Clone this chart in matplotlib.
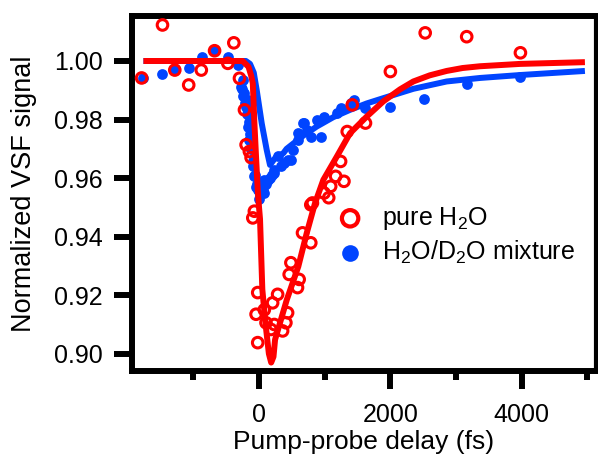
import matplotlib
matplotlib.use("Agg")
import matplotlib.pyplot as plt

plt.rcParams["font.family"] = ["Liberation Sans", "DejaVu Sans"]
plt.rcParams["mathtext.fontset"] = "custom"
plt.rcParams["mathtext.rm"] = "Liberation Sans"
plt.rcParams["mathtext.default"] = "regular"

# pure H2O, measured points (delay in fs, normalized signal)
h2o_t = [-1788, -1470, -1283, -1071, -879, -677, -475, -384, -298, -222,
         -197, -147, -121, -95, -71, -45, -20, -20, 80, 106, 182, 207, 232,
         283, 359, 409, 435, 459, 485, 586, 611, 662, 788, 788, 813, 990,
         1061, 1091, 1167, 1242, 1293, 1343, 1419, 1621, 2000, 2530, 3162, 3980]
h2o_y = [0.9942, 1.0123, 0.9969, 0.9918, 0.9969, 1.0035, 0.9992, 1.0062, 0.9941, 0.9833,
         0.9714, 0.9691, 0.9670, 0.9464, 0.9487, 0.9135, 0.9209, 0.9038, 0.9150, 0.9106, 0.9083, 0.9174, 0.9100,
         0.9203, 0.9078, 0.9106, 0.9140, 0.9271, 0.9311, 0.9226, 0.9254, 0.9413, 0.9379, 0.9509, 0.9515, 0.9549,
         0.9533, 0.9572, 0.9606, 0.9657, 0.9589, 0.9759, 0.9850, 0.9788, 0.9964, 1.0096, 1.0083, 1.0028]

# H2O/D2O mixture, measured points
mix_t = [-1763, -1475, -1283, -1071, -869, -677, -475, -323, -273, -260, -250, -240,
         -222, -210, -197, -185, -171, -171, -160, -147, -135, -120, -110, -95, -85,
         -71, -60, -45, -30, -20, 0, 10, 30, 30, 55, 80, 80, 105, 132, 160, 190,
         232, 232, 283, 333, 384, 435, 485, 510, 586, 586, 662, 687, 737, 788,
         889, 939, 990, 990, 1192, 1242, 1394, 1444, 1621, 2000, 2505, 3162, 3980]
mix_y = [0.9941, 0.9956, 0.9972, 0.9975, 1.0015, 1.0037, 1.0015, 0.9986, 0.9912, 0.9905, 0.9935, 0.9880,
         0.9890, 0.9855, 0.9844, 0.9820, 0.9867, 0.9776, 0.9790, 0.9731, 0.9750, 0.9700, 0.9700, 0.9640, 0.9660,
         0.9606, 0.9610, 0.9570, 0.9580, 0.9560, 0.9530, 0.9545, 0.9572, 0.9550, 0.9560, 0.9550, 0.9595, 0.9580, 0.9594, 0.9600, 0.9610,
         0.9617, 0.9629, 0.9674, 0.9640, 0.9651, 0.9663, 0.9663, 0.9697, 0.9731, 0.9754, 0.9788, 0.9788, 0.9765, 0.9742,
         0.9799, 0.9742, 0.9805, 0.9810, 0.9822, 0.9839, 0.9856, 0.9867, 0.9839, 0.9842, 0.9871, 0.9920, 0.9947]

# fitted curves
h2o_fit_t = [-1760, -400, -250, -160, -120, -95, -71, -45, -20, 0, 15, 50, 100, 150,
             185, 220, 244, 422, 598, 726, 852, 979, 1183, 1385, 1639, 1892, 2146,
             2349, 2600, 2857, 3100, 3364, 3973, 4962]
h2o_fit_y = [1.0000, 1.0000, 1.0000, 0.9980, 0.9950, 0.9924, 0.9790, 0.9670, 0.9560, 0.9500, 0.9460, 0.9220, 0.9100, 0.9000,
             0.8970, 0.8990, 0.9048, 0.9184, 0.9298, 0.9412, 0.9514, 0.9594, 0.9673, 0.9753, 0.9810, 0.9862, 0.9903,
             0.9930, 0.9951, 0.9966, 0.9976, 0.9982, 0.9990, 0.9996]

mix_fit_t = [-1760, -300, -200, -137, -80, -35, 41, 117, 167, 250, 370, 420,
             674, 878, 1130, 1385, 1640, 1892, 2350, 2857, 3364, 3973, 4962]
mix_fit_y = [1.0000, 1.0000, 1.0000, 0.9990, 0.9960, 0.9900, 0.9787, 0.9696, 0.9645, 0.9670, 0.9685, 0.9700,
             0.9745, 0.9776, 0.9808, 0.9833, 0.9855, 0.9873, 0.9905, 0.9930, 0.9942, 0.9952, 0.9966]

red = "#ff0000"
blue = "#0044ff"
fs = 18

fig = plt.figure(figsize=(5.98, 4.59), dpi=100)
ax = fig.add_axes([0.22, 0.191, 0.777, 0.775])

ax.plot(mix_fit_t, mix_fit_y, color=blue, lw=4.3, solid_capstyle="butt", zorder=2)
ax.scatter(mix_t, mix_y, s=60, color=blue, linewidths=0, zorder=3,
           label="H$_2$O/D$_2$O mixture")
ax.scatter(h2o_t, h2o_y, s=58, facecolors="none", edgecolors=red, linewidths=2.2,
           zorder=4, label="pure H$_2$O")
ax.plot(h2o_fit_t, h2o_fit_y, color=red, lw=4.3, solid_capstyle="butt", zorder=5)

ax.set_xlim(-1941, 5134)
ax.set_ylim(0.8940, 1.0155)

ax.set_xticks([0, 2000, 4000])
ax.set_xticks([-1000, 1000, 3000, 5000], minor=True)
ax.set_yticks([0.90, 0.92, 0.94, 0.96, 0.98, 1.00])
ax.set_yticklabels(["%.2f" % v for v in ax.get_yticks()])

ax.tick_params(axis="both", which="major", direction="out", length=13, width=4.3,
               labelsize=fs)
ax.tick_params(axis="x", which="minor", direction="out", length=6.5, width=4.3)
ax.tick_params(axis="y", pad=8)
ax.tick_params(axis="x", pad=10)

for side in ["left", "bottom", "top"]:
    ax.spines[side].set_linewidth(4.3)
ax.spines["right"].set_linewidth(3)

ax.set_xlabel("Pump-probe delay (fs)", fontsize=19, labelpad=2)
ax.set_ylabel("Normalized VSF signal", fontsize=19.5, labelpad=12)

handles, labels = ax.get_legend_handles_labels()
leg = ax.legend(handles[::-1], labels[::-1], loc="upper left", bbox_to_anchor=(0.451, 0.468),
                frameon=False, fontsize=fs, markerscale=1.55, handlelength=0.72,
                handletextpad=0.9, labelspacing=0.28, borderaxespad=0, borderpad=0)
leg.legend_handles[0].set_linewidth(3)

plt.savefig("out.png", dpi=100)
